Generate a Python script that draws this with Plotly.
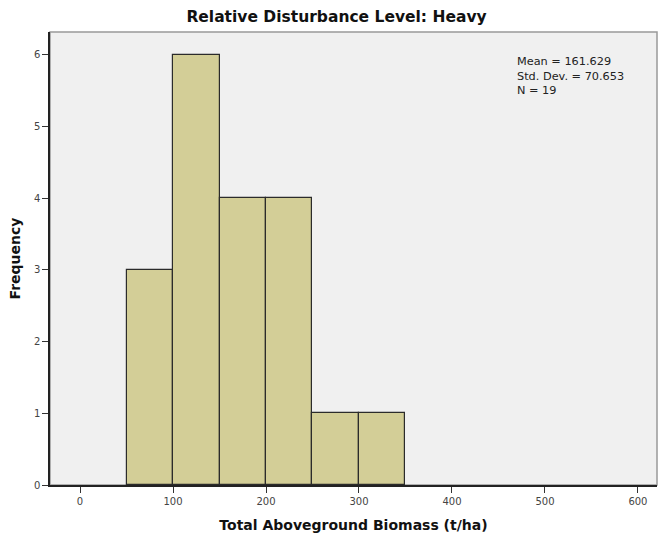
import plotly.graph_objects as go

bin_starts = [50, 100, 150, 200, 250, 300]
frequencies = [3, 6, 4, 4, 1, 1]
bin_width = 50
x_ticks = [0, 100, 200, 300, 400, 500, 600]
y_ticks = [0, 1, 2, 3, 4, 5, 6]
stats_text = "Mean = 161.629<br>Std. Dev. = 70.653<br>N = 19"

centers = [s + bin_width / 2 for s in bin_starts]

fig = go.Figure()
fig.add_trace(go.Bar(
    x=centers, y=frequencies, width=[bin_width] * len(centers),
    marker=dict(color="#D3CE97", line=dict(color="#2b2b2b", width=1.2)),
    showlegend=False, hoverinfo="skip"
))

font_family = "DejaVu Sans, Liberation Sans, sans-serif"

fig.update_layout(
    width=659, height=537,
    margin=dict(l=50, r=2, t=32, b=52),
    paper_bgcolor="white",
    plot_bgcolor="#F0F0F0",
    bargap=0,
    font=dict(family=font_family, size=10, color="#333333"),
    title=dict(text="<b>Relative Disturbance Level: Heavy</b>", x=336.5 / 659, xanchor="center",
               y=1 - 17 / 537, yanchor="middle",
               font=dict(size=15.5, color="#111111", family=font_family)),
    xaxis=dict(range=[-32.3, 620.5], tickvals=x_ticks, ticks="outside", ticklen=6,
               tickcolor="#333333", showgrid=False, zeroline=False,
               showline=True, linecolor="#222222", linewidth=1.5,
               tickfont=dict(size=10, color="#444444"),
               title=dict(text="<b>Total Aboveground Biomass (t/ha)</b>", standoff=14,
                          font=dict(size=14, color="#111111"))),
    yaxis=dict(range=[0, 6.32], tickvals=y_ticks, ticks="outside", ticklen=6,
               tickcolor="#333333", showgrid=False, zeroline=False,
               showline=True, linecolor="#222222", linewidth=1.5,
               tickfont=dict(size=10, color="#444444"),
               title=dict(text="<b>Frequency</b>", standoff=10,
                          font=dict(size=14, color="#111111"))),
    shapes=[dict(type="rect", xref="paper", yref="paper", x0=0, x1=1, y0=0, y1=1,
                 line=dict(color="#999999", width=1.5), fillcolor="rgba(0,0,0,0)", layer="below")],
    annotations=[dict(text=stats_text, xref="paper", yref="paper",
                      x=(515 - 50) / 607, y=(484 - 52) / 453, xanchor="left", yanchor="top",
                      align="left", showarrow=False,
                      font=dict(size=11.3, color="#222222"))]
)

fig.write_html("out.html")
